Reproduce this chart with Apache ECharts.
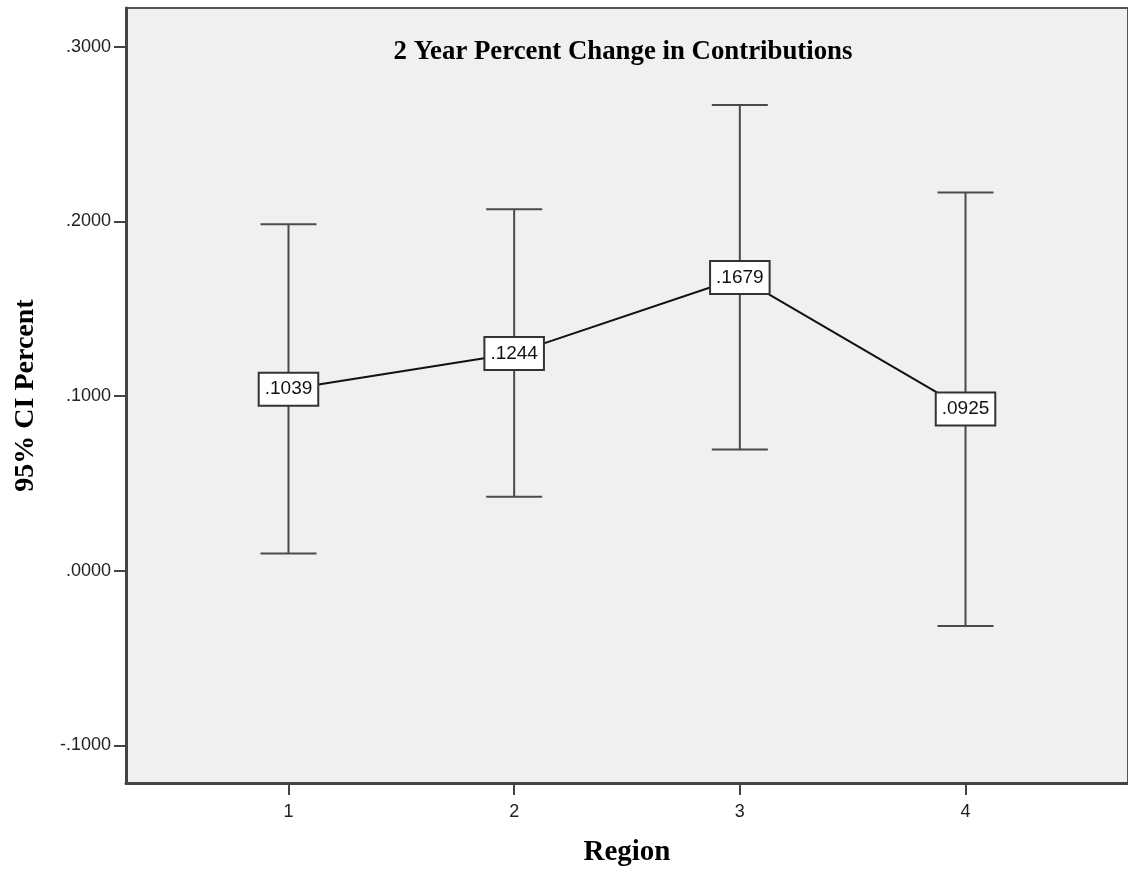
<!DOCTYPE html>
<html><head><meta charset="utf-8">
<script src="https://cdn.jsdelivr.net/npm/echarts@6/dist/echarts.min.js"></script>
<style>html,body{margin:0;padding:0;background:#fff}#c{width:1128px;height:869px}</style>
</head><body><div id="c"></div>
<script>
const regions = [1, 2, 3, 4];
const means = [0.1039, 0.1244, 0.1679, 0.0925];
const lower = [0.0098, 0.0423, 0.0694, -0.0317];
const upper = [0.1983, 0.2069, 0.2667, 0.2166];
const yTicks = [-0.1, 0, 0.1, 0.2, 0.3];
const xTicks = [1, 2, 3, 4];

const fmt = v => (v < 0 ? '-' : '') + Math.abs(v).toFixed(4).replace(/^0/, '');

const chart = echarts.init(document.getElementById('c'), null, {renderer: 'canvas'});
const serif = '"Liberation Serif", "DejaVu Serif", serif';
const sans = '"Liberation Sans", Arial, sans-serif';

chart.setOption({
  animation: false,
  backgroundColor: '#ffffff',
  title: {
    text: '2 Year Percent Change in Contributions',
    left: 618, top: 34, textAlign: 'center',
    textStyle: {fontFamily: serif, fontWeight: 'bold', fontSize: 26.8, color: '#000'}
  },
  grid: {left: 126, right: 0, top: 8, bottom: 86, show: true, containLabel: false,
    outerBoundsMode: 'none',
    backgroundColor: '#f0f0f0', borderColor: '#555', borderWidth: 2},
  xAxis: {
    type: 'value', min: 0.28, max: 4.72,
    name: 'Region', nameLocation: 'middle', nameGap: 55,
    nameTextStyle: {fontFamily: serif, fontWeight: 'bold', fontSize: 29, color: '#000'},
    axisLine: {show: true, onZero: false, lineStyle: {color: '#444', width: 3}},
    axisTick: {show: true, customValues: xTicks, length: 12, lineStyle: {color: '#444', width: 2}},
    axisLabel: {customValues: xTicks, fontFamily: sans, fontSize: 18, color: '#222', margin: 20,
      formatter: v => String(v)},
    splitLine: {show: false}
  },
  yAxis: {
    type: 'value', min: -0.1216, max: 0.3222,
    name: '95% CI Percent', nameLocation: 'middle', nameRotate: 90, nameGap: 86,
    nameTextStyle: {fontFamily: serif, fontWeight: 'bold', fontSize: 28, color: '#000'},
    axisLine: {show: true, onZero: false, lineStyle: {color: '#444', width: 3}},
    axisTick: {show: true, customValues: yTicks, length: 12, lineStyle: {color: '#444', width: 2}},
    axisLabel: {customValues: yTicks, fontFamily: sans, fontSize: 18, color: '#222', margin: 15,
      formatter: v => fmt(v)},
    splitLine: {show: false}
  },
  series: [
    {
      type: 'custom', z: 2,
      data: regions.map((r, i) => [r, lower[i], upper[i]]),
      renderItem: (params, api) => {
        const x = api.value(0);
        const lo = api.coord([x, api.value(1)]);
        const hi = api.coord([x, api.value(2)]);
        const hw = 28;
        const st = {stroke: '#4a4a4a', lineWidth: 2};
        return {type: 'group', children: [
          {type: 'line', shape: {x1: lo[0], y1: lo[1], x2: hi[0], y2: hi[1]}, style: st},
          {type: 'line', shape: {x1: hi[0] - hw, y1: hi[1], x2: hi[0] + hw, y2: hi[1]}, style: st},
          {type: 'line', shape: {x1: lo[0] - hw, y1: lo[1], x2: lo[0] + hw, y2: lo[1]}, style: st}
        ]};
      }
    },
    {
      type: 'line', z: 3,
      data: regions.map((r, i) => [r, means[i]]),
      symbol: 'none',
      lineStyle: {color: '#111', width: 2}
    },
    {
      type: 'custom', z: 10,
      data: regions.map((r, i) => [r, means[i]]),
      renderItem: (params, api) => {
        const p = api.coord([api.value(0), api.value(1)]);
        return {
          type: 'text', x: p[0], y: p[1], z2: 100,
          style: {
            text: fmt(api.value(1)),
            x: 0, y: 0, align: 'center', verticalAlign: 'middle',
            font: '19px ' + sans, fill: '#111',
            backgroundColor: '#ffffff', borderColor: '#333', borderWidth: 2,
            padding: [6, 5, 5, 5], lineHeight: 20
          }
        };
      }
    }
  ]
});
</script></body></html>
